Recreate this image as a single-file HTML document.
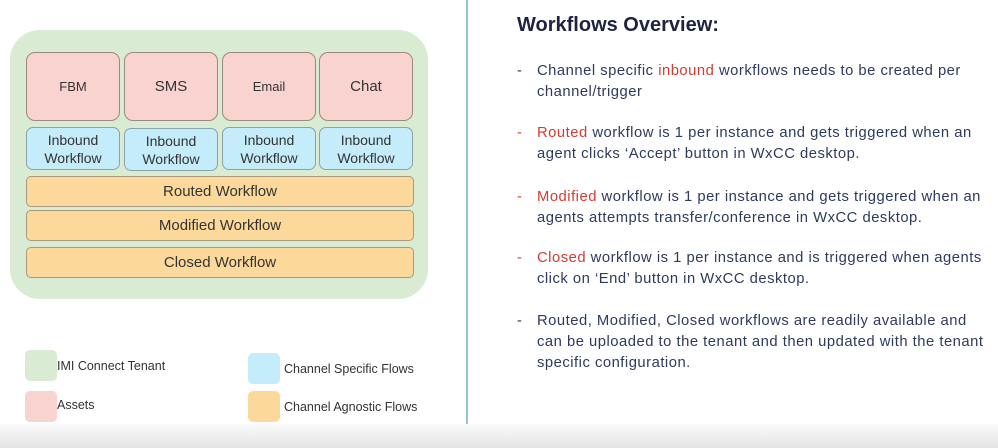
<!DOCTYPE html>
<html><head><meta charset="utf-8"><style>
body{margin:0;width:998px;height:448px;background:#fff;position:relative;overflow:hidden;font-family:"Liberation Sans",sans-serif}
.a{position:absolute;box-sizing:border-box;display:flex;align-items:center;justify-content:center;text-align:center;color:#333;}
.p{background:#f9d3cf;border:1px solid #9a8a80;border-radius:9px;font-size:14px}
.b{background:#c5ecfa;border:1px solid #8aa2aa;border-radius:7px;font-size:14px;line-height:18px}
.o{background:#fcd99b;border:1px solid #a89a80;border-radius:5px;font-size:15px}
.sw{position:absolute;width:32px;height:31px;border-radius:5px}
.lg{position:absolute;font-size:12.5px;color:#333}
.t{position:absolute;left:537px;font-size:14.8px;letter-spacing:0.5px;color:#2e3a5e;white-space:nowrap}
.d{position:absolute;left:517px;font-size:14.6px;color:#2e3a5e}
.r{color:#d83a2e}
</style></head><body>
<div style="position:absolute;left:10px;top:30px;width:418px;height:269px;background:#d9ebd2;border-radius:30px"></div>
<div class="a p" style="left:26px;top:52px;width:94px;height:69px;font-size:13px">FBM</div>
<div class="a p" style="left:124px;top:52px;width:94px;height:69px;font-size:15px">SMS</div>
<div class="a p" style="left:222px;top:52px;width:94px;height:69px;font-size:13px">Email</div>
<div class="a p" style="left:319px;top:52px;width:94px;height:69px;font-size:15px">Chat</div>
<div class="a b" style="left:26px;top:127px;width:94px;height:43px">Inbound<br>Workflow</div>
<div class="a b" style="left:124px;top:128px;width:94px;height:43px">Inbound<br>Workflow</div>
<div class="a b" style="left:222px;top:127px;width:94px;height:43px">Inbound<br>Workflow</div>
<div class="a b" style="left:319px;top:127px;width:94px;height:43px">Inbound<br>Workflow</div>
<div class="a o" style="left:26px;top:176px;width:388px;height:31px">Routed Workflow</div>
<div class="a o" style="left:26px;top:210px;width:388px;height:31px">Modified Workflow</div>
<div class="a o" style="left:26px;top:247px;width:388px;height:31px">Closed Workflow</div>
<div class="sw" style="left:25px;top:350px;background:#d9ebd2"></div>
<div class="sw" style="left:25px;top:391px;background:#f9d3cf"></div>
<div class="sw" style="left:248px;top:353px;background:#c5ecfa"></div>
<div class="sw" style="left:248px;top:391px;background:#fcd99b"></div>
<div class="lg" style="left:57px;top:359px">IMI Connect Tenant</div>
<div class="lg" style="left:57px;top:398px">Assets</div>
<div class="lg" style="left:284px;top:362px">Channel Specific Flows</div>
<div class="lg" style="left:284px;top:400px">Channel Agnostic Flows</div>
<div style="position:absolute;left:466px;top:0;width:2px;height:448px;background:#8fc8d8"></div>
<div style="position:absolute;left:517px;top:14px;font-size:20px;font-weight:bold;color:#1d2340">Workflows Overview:</div>
<div class="d" style="top:63px">-</div>
<div class="t" style="top:63px">Channel specific <span class="r">inbound</span> workflows needs to be created per</div>
<div class="t" style="top:84px">channel/trigger</div>
<div class="d r" style="top:125px">-</div>
<div class="t" style="top:125px"><span class="r">Routed</span> workflow is 1 per instance and gets triggered when an</div>
<div class="t" style="top:146px">agent clicks ‘Accept’ button in WxCC desktop.</div>
<div class="d r" style="top:189px">-</div>
<div class="t" style="top:189px"><span class="r">Modified</span> workflow is 1 per instance and gets triggered when an</div>
<div class="t" style="top:210px">agents attempts transfer/conference in WxCC desktop.</div>
<div class="d r" style="top:250px">-</div>
<div class="t" style="top:250px"><span class="r">Closed</span> workflow is 1 per instance and is triggered when agents</div>
<div class="t" style="top:271px">click on ‘End’ button in WxCC desktop.</div>
<div class="d" style="top:313px">-</div>
<div class="t" style="top:313px">Routed, Modified, Closed workflows are readily available and</div>
<div class="t" style="top:334px">can be uploaded to the tenant and then updated with the tenant</div>
<div class="t" style="top:355px">specific configuration.</div>
<div style="position:absolute;left:0;top:424px;width:998px;height:24px;background:linear-gradient(#fafafa,#e4e4e4)"></div>
</body></html>
